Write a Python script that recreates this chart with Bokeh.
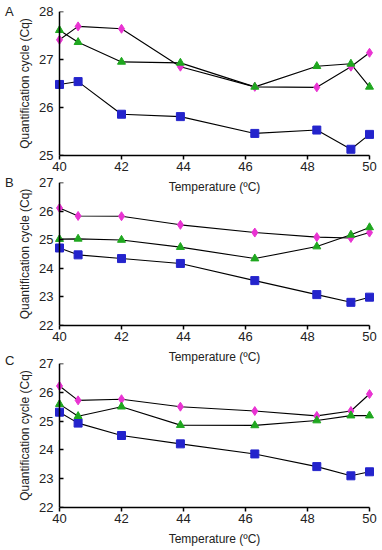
from bokeh.plotting import figure
from bokeh.layouts import column
from bokeh.models import Range1d, FixedTicker, LinearAxis, Div
from bokeh.embed import file_html
from bokeh.resources import INLINE

temps = [40, 40.6, 42, 43.9, 46.3, 48.3, 49.4, 50]

a_pink = [27.41, 27.69, 27.64, 26.85, 26.43, 26.42, 26.85, 27.14]
a_green = [27.61, 27.36, 26.95, 26.93, 26.43, 26.86, 26.91, 26.43]
a_blue = [26.48, 26.54, 25.86, 25.81, 25.46, 25.53, 25.13, 25.44]

b_pink = [26.11, 25.83, 25.82, 25.52, 25.25, 25.09, 25.06, 25.25]
b_green = [25.02, 25.03, 24.99, 24.74, 24.34, 24.76, 25.17, 25.43]
b_blue = [24.71, 24.47, 24.34, 24.17, 23.57, 23.08, 22.81, 22.99]

c_pink = [26.22, 25.72, 25.76, 25.50, 25.35, 25.18, 25.35, 25.94]
c_green = [25.59, 25.17, 25.50, 24.86, 24.85, 25.02, 25.19, 25.19]
c_blue = [25.31, 24.93, 24.50, 24.21, 23.86, 23.42, 23.10, 23.24]

x_ticks = [40, 42, 44, 46, 48, 50]

PINK = "#e933d2"
GREEN = "#1fa71f"
BLUE = "#2424cc"
FONT = "Liberation Sans"
TXT = "#222222"

PX = 31.0  # pixels per degree
LEFT = 54
FRAME_W = 320
X0 = 40 - (59 - LEFT) / PX
X1 = X0 + FRAME_W / PX


def style_axis(ax):
    ax.major_label_text_font = FONT
    ax.major_label_text_font_size = "13px"
    ax.major_label_text_color = TXT
    ax.axis_label_text_font = FONT
    ax.axis_label_text_font_style = "normal"
    ax.axis_label_text_color = TXT
    ax.axis_label_text_font_size = "12px"
    ax.minor_tick_line_color = None


def panel(pink, green, blue, ylo, yhi, top, frame_h, bottom, margin_top):
    p = figure(width=LEFT + FRAME_W + 6, height=top + frame_h + bottom,
               output_backend="svg", toolbar_location=None,
               x_range=Range1d(X0, X1), y_range=Range1d(ylo, yhi),
               min_border_left=LEFT, min_border_right=6,
               min_border_top=top, min_border_bottom=bottom,
               background_fill_color=None, border_fill_color=None)
    p.margin = (margin_top, 0, 0, 0)
    p.outline_line_color = None
    p.grid.visible = False
    yticks = FixedTicker(ticks=list(range(int(ylo), int(yhi) + 1)))

    xa = p.xaxis[0]
    style_axis(xa)
    xa.ticker = FixedTicker(ticks=x_ticks)
    xa.bounds = (40, 50)
    xa.axis_line_width = 1.5
    xa.major_tick_line_width = 1.5
    xa.major_tick_out = 4
    xa.major_tick_in = 0
    xa.axis_label = "Temperature (ºC)"
    xa.major_label_standoff = 2
    xa.axis_label_standoff = 6

    # axis line and ticks through x = 40 (no labels of its own)
    ya = p.yaxis[0]
    style_axis(ya)
    ya.ticker = yticks
    ya.fixed_location = 40
    ya.axis_line_width = 1.5
    ya.major_tick_line_width = 1.5
    ya.major_tick_in = 4
    ya.major_tick_out = 0
    ya.major_label_text_font_size = "1px"
    ya.major_label_text_color = None
    ya.major_label_standoff = 0

    # tick labels and title
    yl = LinearAxis(ticker=yticks, axis_label="Quantification cycle (Cq)")
    style_axis(yl)
    yl.axis_line_color = None
    yl.major_tick_line_color = None
    yl.major_tick_out = 0
    yl.major_tick_in = 0
    yl.major_label_standoff = 1
    yl.axis_label_standoff = 4
    p.add_layout(yl, "left")

    for ys in (blue, pink, green):
        p.line(temps, ys, line_color="black", line_width=1.1)
    p.scatter(temps, blue, marker="square", size=8, fill_color=BLUE, line_color=BLUE)
    p.scatter(temps, pink, marker="diamond", size=9, fill_color=PINK, line_color=PINK)
    p.scatter(temps, green, marker="triangle", size=8, fill_color=GREEN, line_color=GREEN)
    return p


def letter(text, margin_top):
    return Div(text=text, width=20, height=20, margin=(margin_top, 0, 0, 5),
               styles={"font-family": FONT, "font-size": "13px", "color": TXT,
                       "line-height": "13px", "padding-top": "5px"})


da = letter("A", 0)
pa = panel(a_pink, a_green, a_blue, 25, 28, 11, 146, 39, -20)
db = letter("B", -25)
pb = panel(b_pink, b_green, b_blue, 22, 27, 10, 145, 39, -19)
dc = letter("C", -17)
pc = panel(c_pink, c_green, c_blue, 22, 27, 10, 146, 39, -16)

layout = column(da, pa, db, pb, dc, pc, spacing=0)
open("out.html", "w").write(file_html(layout, INLINE))
